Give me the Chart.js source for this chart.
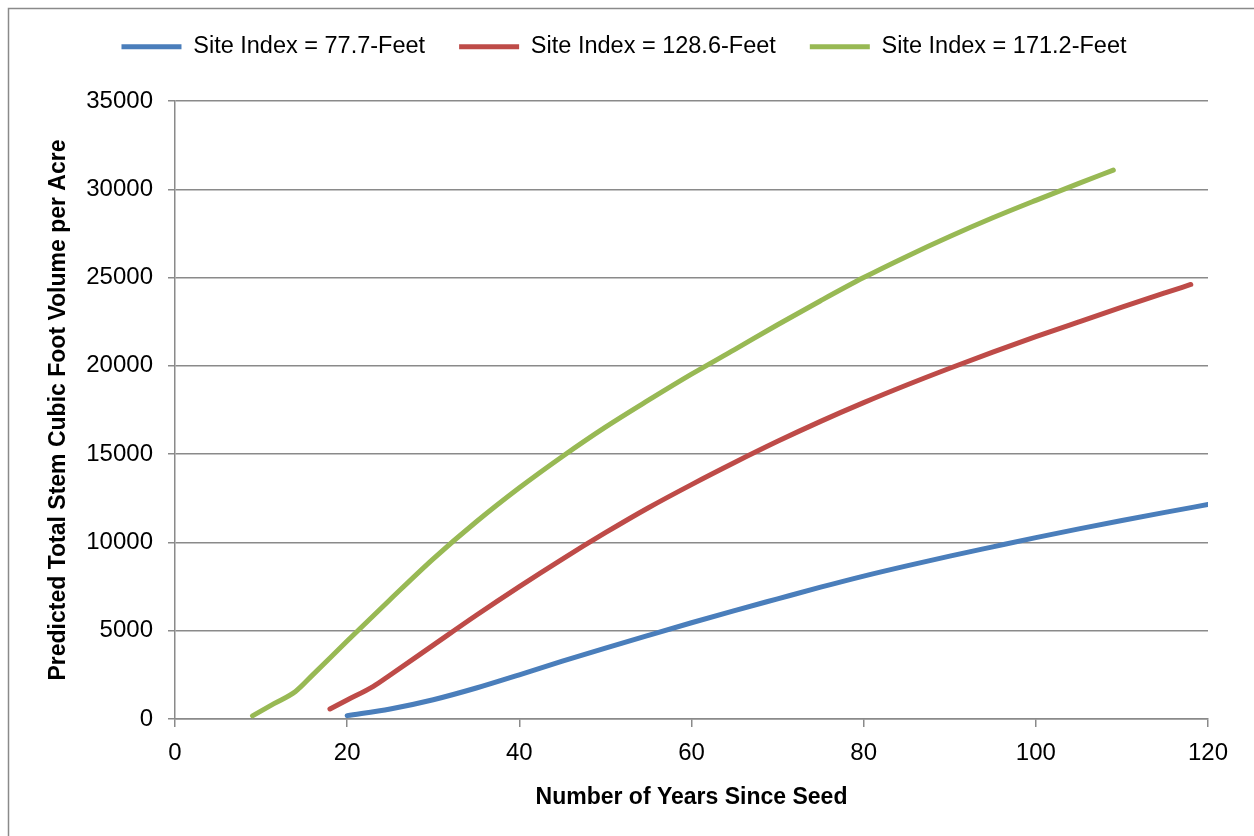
<!DOCTYPE html>
<html lang="en">
<head>
  <meta charset="UTF-8">
  <title>Predicted Stem Volume by Site Index</title>
  <script src="https://cdn.jsdelivr.net/npm/chart.js"></script>
  <style>
    html, body { margin: 0; padding: 0; background: #fff; }
    #chart { display: block; }
  </style>
</head>
<body>
  <canvas id="chart" width="1254" height="836"></canvas>

  <script>
    // ---- data ----
    const seriesLabels = ["Site Index = 77.7-Feet", "Site Index = 128.6-Feet", "Site Index = 171.2-Feet"];

    const yearsLow = [20, 25, 30, 35, 40, 45, 50, 55, 60, 65, 70, 75, 80, 85, 90, 95, 100, 105, 110, 115, 120];
    const volumeLow = [190, 565, 1090, 1755, 2505, 3280, 4020, 4740, 5450, 6140, 6805, 7465, 8095, 8675, 9225, 9750, 10270, 10765, 11240, 11700, 12150];

    const yearsMid = [18, 20, 23, 25, 30, 35, 40, 45, 50, 55, 60, 65, 70, 75, 80, 85, 90, 95, 100, 105, 110, 115, 118];
    const volumeMid = [566, 1076, 1835, 2495, 4185, 5875, 7500, 9060, 10550, 11965, 13275, 14525, 15725, 16855, 17915, 18915, 19865, 20775, 21650, 22490, 23320, 24130, 24610];

    const yearsHigh = [9, 11.5, 14, 16, 20, 25, 30, 35, 40, 45, 50, 55, 60, 65, 70, 75, 80, 85, 90, 95, 100, 105, 109];
    const volumeHigh = [180, 870, 1560, 2500, 4420, 6770, 9070, 11170, 13095, 14870, 16530, 18055, 19530, 20920, 22330, 23690, 25000, 26200, 27325, 28385, 29375, 30335, 31087];

    const yTicks = [0, 5000, 10000, 15000, 20000, 25000, 30000, 35000];
    const xTicks = [0, 20, 40, 60, 80, 100, 120];

    const colors = ["#4a7ebb", "#be4b48", "#98b954"];
    const axisGray = "#8a8a8a";

    const toPoints = (xs, ys) => xs.map((x, i) => ({ x: x, y: ys[i] }));

    // extra room under the legend
    const legendGap = {
      id: "legendGap",
      beforeInit(chart) {
        const fit = chart.legend.fit;
        chart.legend.fit = function () {
          fit.bind(chart.legend)();
          this.height += 32.5;
        };
      }
    };

    // frame round the chart (right and bottom edges fall off the picture)
    const frame = {
      id: "frame",
      afterDraw(chart) {
        const ctx = chart.ctx;
        ctx.save();
        ctx.strokeStyle = axisGray;
        ctx.lineWidth = 1.5;
        ctx.strokeRect(8.5, 8.5, 1300, 900);
        ctx.restore();
      }
    };

    const makeSet = (i, xs, ys) => ({
      label: seriesLabels[i],
      data: toPoints(xs, ys),
      borderColor: colors[i],
      backgroundColor: colors[i],
      borderWidth: 5,
      borderCapStyle: "round",
      pointRadius: 0,
      cubicInterpolationMode: "monotone",
      fill: false
    });

    new Chart("chart", {
      type: "line",
      data: {
        datasets: [
          makeSet(0, yearsLow, volumeLow),
          makeSet(1, yearsMid, volumeMid),
          makeSet(2, yearsHigh, volumeHigh)
        ]
      },
      options: {
        responsive: false,
        animation: false,
        layout: { padding: { top: 1, left: 40, right: 46, bottom: 21 } },
        plugins: {
          tooltip: { enabled: false },
          legend: {
            position: "top",
            labels: {
              usePointStyle: true,
              pointStyle: "line",
              pointStyleWidth: 60,
              padding: 34,
              color: "#000",
              font: { family: "Liberation Sans", size: 23.5 }
            }
          }
        },
        scales: {
          x: {
            type: "linear",
            min: 0,
            max: 120,
            afterBuildTicks: s => { s.ticks = xTicks.map(v => ({ value: v })); },
            afterFit: s => { s.height = 96; },
            grid: { drawOnChartArea: false, color: axisGray, lineWidth: 1.5, tickLength: 8 },
            border: { color: axisGray, width: 1.5 },
            ticks: {
              padding: 12,
              color: "#000",
              font: { family: "Liberation Sans", size: 24 },
              callback: v => String(v)
            },
            title: {
              display: true,
              text: "Number of Years Since Seed",
              color: "#000",
              padding: { top: 4, bottom: 4 },
              font: { family: "Liberation Sans", size: 23, weight: "bold" }
            }
          },
          y: {
            min: 0,
            max: 35000,
            afterBuildTicks: s => { s.ticks = yTicks.map(v => ({ value: v })); },
            afterFit: s => { s.width = 135; },
            grid: { color: axisGray, lineWidth: 1.5, tickLength: 7 },
            border: { color: axisGray, width: 1.5 },
            ticks: {
              padding: 15,
              color: "#000",
              font: { family: "Liberation Sans", size: 24 },
              callback: v => String(v)
            },
            title: {
              display: true,
              text: "Predicted Total Stem Cubic Foot Volume per Acre",
              color: "#000",
              padding: { top: 5, bottom: 4 },
              font: { family: "Liberation Sans", size: 23, weight: "bold" }
            }
          }
        }
      },
      plugins: [legendGap, frame]
    });
  </script>
</body>
</html>
